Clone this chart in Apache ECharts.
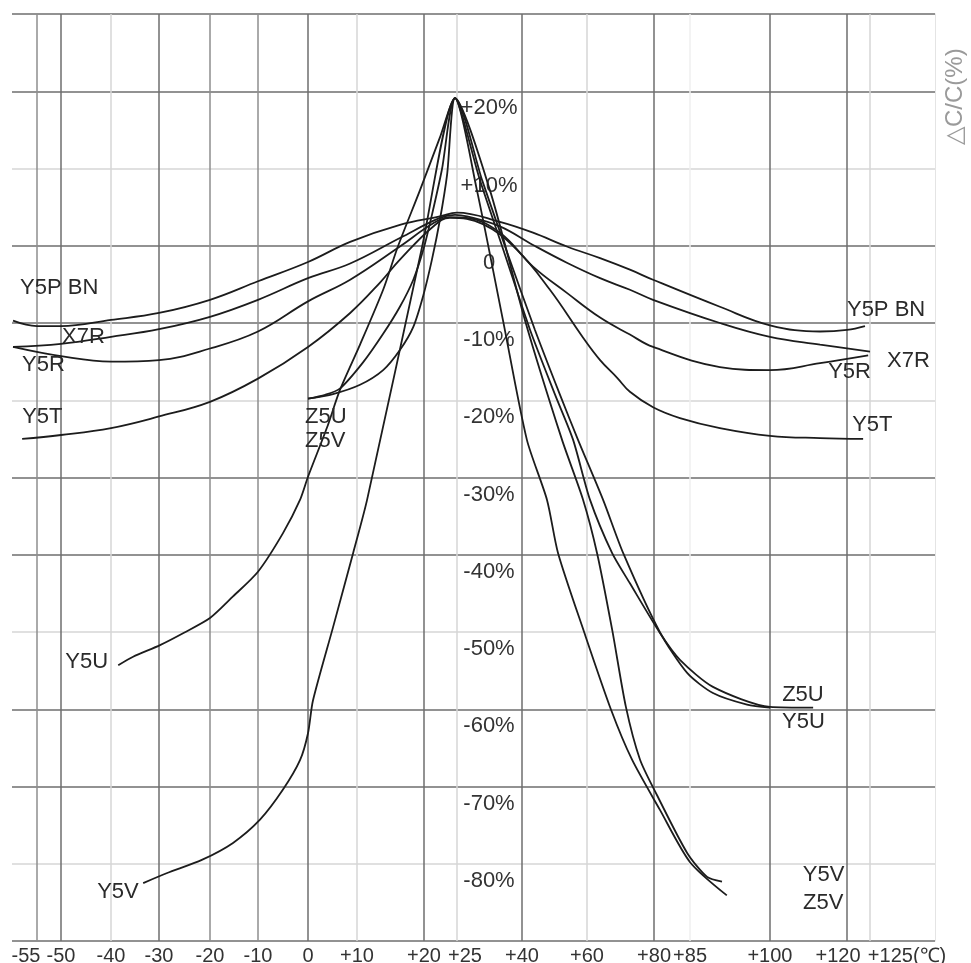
<!DOCTYPE html>
<html>
<head>
<meta charset="utf-8">
<title>ΔC/C vs temperature</title>
<script src="https://cdn.jsdelivr.net/npm/echarts@6/dist/echarts.min.js"></script>
<style>
  html, body { margin: 0; padding: 0; background: #fff; }
  #chart { width: 971px; height: 963px; }
</style>
</head>
<body>
<div id="chart"></div>
<script>
// temperature ticks printed under the plot (°C)
const xTicks = [-55, -50, -40, -30, -20, -10, 0, 10, 20, 25, 40, 60, 80, 85, 100, 120, 125]
// the printed temperature scale is not linear: where each tick sits along the axis (0..100)
const xTickAt = [2.71, 5.31, 10.73, 15.93, 21.45, 26.65, 32.07, 37.38, 44.64, 48.21, 55.25, 62.30, 69.56, 73.46, 82.12, 90.47, 92.96]
// ΔC/C ticks (%)
const yTicks = [30, 20, 10, 0, -10, -20, -30, -40, -50, -60, -70, -80, -90]

// curves: [temperature °C, ΔC/C %]
const y5pbn = [[-60, -9.7], [-55, -10.4], [-50, -10.4], [-40, -9.6], [-30, -8.7], [-20, -7.0], [-10, -4.6], [0, -2.1], [8.6, 0.5], [16.4, 2.7], [22.4, 3.8], [25, 4.3], [34.9, 3.1], [43.4, 1.7], [53.8, -0.1], [63.9, -1.6], [72.8, -3.1], [79.7, -4.4], [90.6, -7.9], [100, -10.3], [113, -11.1], [120, -10.9], [123.9, -10.4]]
const x7r = [[-60, -13.1], [-50, -12.7], [-40, -11.8], [-30, -10.8], [-20, -9.2], [-10, -7.0], [0, -4.2], [8.6, -2.3], [16.4, 1.0], [22.4, 3.6], [24.7, 4.0], [27.3, 3.8], [34.9, 2.5], [43.4, 0.1], [53.8, -2.2], [63.9, -4.2], [72.8, -5.7], [79.7, -7.0], [90.6, -10.0], [100, -11.8], [113, -12.8], [125, -13.7]]
const y5r = [[-60, -13.1], [-50, -14.3], [-40, -15.0], [-30, -14.8], [-20, -13.3], [-10, -11.1], [0, -7.2], [8.6, -4.4], [16.4, -0.1], [21.4, 2.9], [23.9, 3.7], [27.3, 3.6], [34.9, 1.7], [43.4, -2.7], [53.8, -6.1], [63.9, -9.3], [72.8, -11.5], [79.7, -13.1], [90.6, -15.7], [100, -16.1], [113, -15.2], [124.6, -14.2]]
const y5t = [[-58.1, -25.0], [-50, -24.5], [-40, -23.6], [-30, -22.1], [-20, -20.2], [-10, -17.2], [0, -13.1], [8.6, -8.7], [13.4, -4.8], [16.4, -1.8], [21.4, 2.5], [23.9, 3.6], [31, 2.8], [38.8, -0.5], [48.6, -5.7], [58.8, -11.9], [63.9, -14.8], [69, -17.1], [72.8, -18.9], [79.7, -20.9], [83.6, -22.3], [90.6, -23.6], [100, -24.6], [113, -24.9], [123.5, -25.0]]
const y5u = [[-38.5, -54.3], [-35.4, -53.2], [-29.8, -51.7], [-25.1, -50.1], [-20, -48.2], [-15.2, -45.4], [-10, -42.2], [-5, -37.2], [-1.6, -32.9], [0, -29.9], [3.9, -23.5], [6.5, -18.7], [10.45, -12.8], [13.9, -5.7], [16.1, -0.1], [19.4, 7.2], [22.4, 14.0], [24.7, 19.1], [30.8, 8.5], [36.8, -1.2], [44.0, -10.9], [51.7, -19.3], [57.2, -25.1], [64.8, -32.9], [70.8, -39.8], [80.8, -50.0], [84.6, -55.3], [89.3, -57.9], [95.7, -59.4], [100, -59.8]]
const z5u = [[0, -19.8], [5.1, -19.2], [10.45, -18.0], [13.9, -16.1], [16.4, -13.5], [18.4, -10.5], [19.9, -6.4], [21.2, -1.8], [22.4, 3.3], [23.5, 9.2], [24.7, 19.1], [30.3, 8.5], [36.1, -1.2], [42.5, -10.9], [50.2, -19.3], [55.7, -25.1], [60.9, -32.9], [67.5, -39.8], [72.8, -43.7], [80.8, -50.1], [83.6, -53.6], [89.3, -57.1], [100, -59.7], [111.2, -59.8]]
const y5v = [[-33.3, -82.5], [-28.4, -81.2], [-21.6, -79.5], [-15.2, -77.3], [-9.6, -74.3], [-5.0, -70.4], [-1.6, -66.6], [0, -63.1], [1.0, -58.9], [5.1, -49.4], [9.2, -39.8], [11.5, -32.9], [19.7, -0.2], [24.7, 19.1], [29.6, 7.2], [35.6, -9.6], [41.5, -25.1], [47.7, -32.9], [51.1, -39.8], [59.1, -50.0], [67.2, -60.1], [73.4, -66.5], [80.8, -73.0], [85, -79.8], [91.9, -84.1]]
const z5v = [[0, -19.8], [3.5, -19.3], [6.5, -18.5], [10.9, -15.1], [13.9, -11.4], [16.4, -7.9], [18.4, -4.4], [19.9, -0.5], [21.2, 4.0], [22.7, 9.8], [24.7, 19.1], [32.6, 7.2], [40.9, -9.6], [52.3, -25.1], [58.8, -32.9], [63.0, -39.8], [67.5, -49.7], [71.6, -59.7], [75.8, -66.5], [80.4, -71.1], [84.6, -78.6], [88.2, -81.7], [91.0, -82.3]]

// temperature -> position on the (non linear) printed axis
function warp(t) {
  let i = 0
  while (i < xTicks.length - 2 && t > xTicks[i + 1]) i++
  const t0 = xTicks[i]
  const t1 = xTicks[i + 1]
  return xTickAt[i] + (t - t0) * (xTickAt[i + 1] - xTickAt[i]) / (t1 - t0)
}
const toXY = (arr) => arr.map(p => [warp(p[0]), p[1]])

const ink = '#1c1c1c'
const dark = '#6e6e6e'
const mid = '#8e8e8e'
const light = '#d6d6d6'
const font = '"Liberation Sans", Arial, sans-serif'

// vertical grid line shades, one per tick
const xGridColors = [mid, dark, light, dark, mid, mid, dark, light, dark, light, dark, light, dark, '#efefef', dark, dark, light]
// some printed tick labels sit a little off their line
const labelNudge = { '-55': 'l2', '25': 'r1', '120': 'l1', '125': 'r2' }

// curve name tags, placed from a curve end with a pixel offset
function tag(name, pt, dx, dy) {
  return { name: name, coord: [warp(pt[0]), pt[1]], label: { offset: [dx, dy] } }
}
const first = (a) => a[0]
const last = (a) => a[a.length - 1]

function curve(name, data, smooth, tags) {
  return {
    name: name,
    type: 'line',
    data: toXY(data),
    smooth: smooth,
    showSymbol: false,
    symbol: 'none',
    lineStyle: { color: ink, width: 1.8 },
    markPoint: {
      symbol: 'circle',
      symbolSize: 0,
      label: {
        show: true,
        position: 'inside',
        align: 'left',
        verticalAlign: 'middle',
        formatter: (p) => p.name,
        color: '#2a2a2a',
        fontSize: 22,
        fontFamily: font,
      },
      data: tags,
    },
  }
}

const xLabelStyle = { fontSize: 20, color: '#333', fontFamily: font }

const chart = echarts.init(document.getElementById('chart'), null, { renderer: 'canvas' })
chart.setOption({
  animation: false,
  backgroundColor: '#ffffff',
  grid: { left: 12, right: 36, top: 14, bottom: 22, containLabel: false, outerBoundsMode: 'none' },
  xAxis: {
    type: 'value',
    min: 0,
    max: 100,
    axisLine: { show: false },
    axisTick: { show: false, customValues: xTickAt },
    axisLabel: {
      customValues: xTickAt,
      margin: 5,
      color: '#333',
      fontSize: 20,
      fontFamily: font,
      hideOverlap: false,
      showMinLabel: true,
      showMaxLabel: true,
      formatter(value) {
        let i = 0
        xTickAt.forEach((u, k) => { if (Math.abs(u - value) < Math.abs(xTickAt[i] - value)) i = k })
        const t = xTicks[i]
        let s = t > 0 ? '+' + t : String(t)
        if (t === 125) s += '(℃)'
        const n = labelNudge[String(t)]
        return n ? '{' + n + '|' + s + '}' : s
      },
      rich: {
        l1: Object.assign({ padding: [0, 18, 0, 0] }, xLabelStyle),
        l2: Object.assign({ padding: [0, 22, 0, 0] }, xLabelStyle),
        r1: Object.assign({ padding: [0, 0, 0, 16] }, xLabelStyle),
        r2: Object.assign({ padding: [0, 0, 0, 74] }, xLabelStyle),
      },
    },
    splitLine: { show: true, lineStyle: { color: xGridColors, width: 1.5 } },
  },
  yAxis: [
    {
      // tick labels printed inside the plot, left of the +40 line, just under their grid line
      type: 'value',
      min: -90,
      max: 30,
      interval: 10,
      position: 'left',
      offset: -510,
      axisLine: { show: false },
      axisTick: { show: false },
      axisLabel: {
        margin: 33,
        align: 'center',
        verticalAlign: 'top',
        lineHeight: 34,
        color: '#333',
        fontSize: 22,
        fontFamily: font,
        formatter(v) {
          if (v === 30 || v === -90) return ''
          if (v === 0) return '0'
          return (v > 0 ? '+' : '') + v + '%'
        },
      },
      splitLine: { show: true, lineStyle: { color: [dark, light, dark], width: 1.5 } },
    },
    {
      // faint right border
      type: 'value',
      min: -90,
      max: 30,
      interval: 10,
      position: 'right',
      axisLine: { show: true, lineStyle: { color: '#e4e4e4', width: 1 } },
      axisTick: { show: false },
      axisLabel: { show: false },
      splitLine: { show: false },
    },
    {
      // axis title only
      type: 'value',
      min: -90,
      max: 30,
      interval: 10,
      position: 'right',
      offset: 20,
      axisLine: { show: false },
      axisTick: { show: false },
      axisLabel: { show: false },
      splitLine: { show: false },
      name: '△C/C(%)',
      nameLocation: 'end',
      nameRotate: 90,
      nameGap: -131,
      nameTextStyle: { color: '#9a9a9a', fontSize: 24, fontFamily: font },
    },
  ],
  series: [
    curve('Y5P BN', y5pbn, 0.4, [tag('Y5P BN', first(y5pbn), 7, -33), tag('Y5P BN', last(y5pbn), -18, -16)]),
    curve('X7R', x7r, 0.4, [tag('X7R', first(x7r), 49, -10), tag('X7R', last(x7r), 17, 9)]),
    curve('Y5R', y5r, 0.4, [tag('Y5R', first(y5r), 9, 18), tag('Y5R', last(y5r), -40, 16)]),
    curve('Y5T', y5t, 0.4, [tag('Y5T', first(y5t), 0, -22), tag('Y5T', last(y5t), -11, -14)]),
    curve('Y5U', y5u, 0.25, [tag('Y5U', first(y5u), -53, -3), tag('Y5U', last(y5u), 12, 14)]),
    curve('Z5U', z5u, 0.25, [tag('Z5U', first(z5u), -3, 18), tag('Z5U', last(z5u), -31, -13)]),
    curve('Y5V', y5v, 0.25, [tag('Y5V', first(y5v), -46, 9), tag('Y5V', last(y5v), 76, -20)]),
    curve('Z5V', z5v, 0.25, [tag('Z5V', first(z5v), -3, 42), tag('Z5V', last(z5v), 81, 21)]),
  ],
})
</script>
</body>
</html>
